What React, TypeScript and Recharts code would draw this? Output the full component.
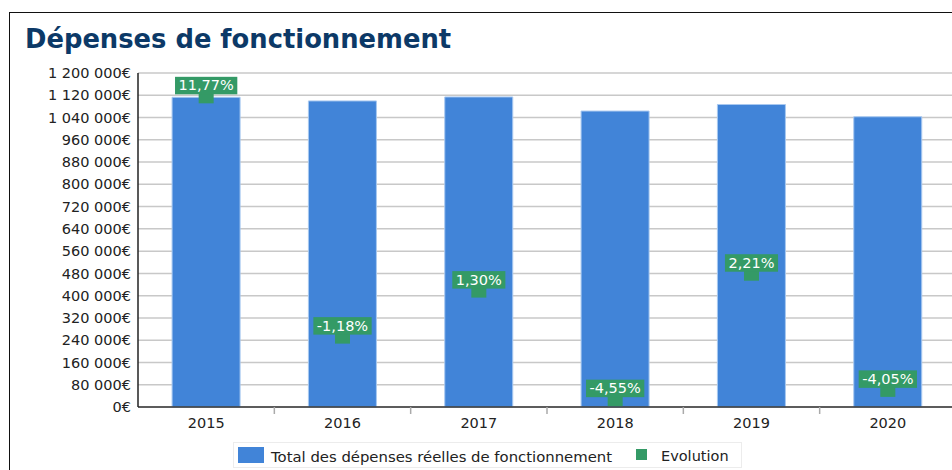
import React from 'react';
import {
  ComposedChart,
  Bar,
  Line,
  XAxis,
  YAxis,
  CartesianGrid,
  LabelList,
} from 'recharts';

// values
const years = ['2015', '2016', '2017', '2018', '2019', '2020'];
const totals = [1112800, 1099670, 1113960, 1063280, 1086780, 1042760];
const evolutions = [11.77, -1.18, 1.3, -4.55, 2.21, -4.05];
const yTicks = [
  0, 80000, 160000, 240000, 320000, 400000, 480000, 560000, 640000, 720000,
  800000, 880000, 960000, 1040000, 1120000, 1200000,
];

const data = years.map((year, i) => ({
  year,
  total: totals[i],
  evo: evolutions[i],
}));

const FONT = '"DejaVu Sans", Verdana, sans-serif';
const BLUE = '#4184d8';
const GREEN = '#349a66';
const TEXT = '#222';
const X_TICK_GAP = 11;

const formatEuro = (v: number) =>
  String(Math.round(v)).replace(/\B(?=(\d{3})+(?!\d))/g, ' ') + '€';

const formatPct = (v: number) => v.toFixed(2).replace('.', ',') + '%';

let measureCtx: CanvasRenderingContext2D | null = null;
function textWidth(s: string) {
  if (!measureCtx) {
    measureCtx = document.createElement('canvas').getContext('2d');
  }
  if (!measureCtx) return s.length * 8.5;
  measureCtx.font = `14.5px ${FONT}`;
  return measureCtx.measureText(s).width;
}

const YearTick = (props: any) => {
  const { x, y, payload, index, visibleTicksCount } = props;
  const half = payload && payload.offset ? payload.offset : 0;
  const top = y - X_TICK_GAP;
  return (
    <g>
      {half > 0 && index < visibleTicksCount - 1 && (
        <line x1={x + half} x2={x + half} y1={top} y2={top + 7} stroke="#aaa" strokeWidth={1.5} />
      )}
      <text x={x} y={y} dy="0.71em" textAnchor="middle" fill={TEXT} fontSize={14.5} fontFamily={FONT}>
        {payload.value}
      </text>
    </g>
  );
};

const SquareDot = (props: any) => {
  const { cx, cy, index } = props;
  if (cx == null || cy == null) return <g key={index} />;
  return <rect key={index} x={cx - 7.5} y={cy - 7.5} width={15} height={15} fill={GREEN} />;
};

const EvoLabel = (props: any) => {
  const { x, y, value } = props;
  if (x == null || y == null) return null;
  const label = formatPct(Number(value));
  const w = textWidth(label) + 7;
  const h = 17.5;
  return (
    <g>
      <rect x={x - w / 2} y={y - 1.5 - h} width={w} height={h} fill={GREEN} />
      <text
        x={x}
        y={y - 10.5}
        dy="0.355em"
        textAnchor="middle"
        fill="#fff"
        fontSize={14.5}
        fontFamily={FONT}
      >
        {label}
      </text>
    </g>
  );
};

export default function App() {
  return (
    <div
      style={{
        position: 'fixed',
        left: 0,
        top: 0,
        width: 952,
        height: 470,
        overflow: 'hidden',
        background: '#fff',
        fontFamily: FONT,
      }}
    >
      <div
        style={{
          position: 'absolute',
          left: 9,
          top: 11.5,
          width: 1100,
          height: 700,
          border: '1.5px solid #111',
          boxSizing: 'border-box',
        }}
      />
      <div
        style={{
          position: 'absolute',
          left: 25,
          top: 24,
          fontSize: 25.8,
          fontWeight: 'bold',
          color: '#0c3967',
          whiteSpace: 'nowrap',
          lineHeight: 'normal',
        }}
      >
        Dépenses de fonctionnement
      </div>

      <div style={{ position: 'absolute', left: 0, top: 0 }}>
        <ComposedChart
          width={956}
          height={470}
          data={data}
          margin={{ top: 73, right: 0, left: 0, bottom: 33 }}
          barCategoryGap="25%"
        >
          <CartesianGrid vertical={false} stroke="#c8c8c8" strokeWidth={1.5} />
          <XAxis
            dataKey="year"
            height={30}
            axisLine={{ stroke: '#333', strokeWidth: 1.5 }}
            tickLine={false}
            tickSize={0}
            tickMargin={X_TICK_GAP}
            tick={<YearTick />}
            interval={0}
          />
          <YAxis
            width={138}
            domain={[0, 1200000]}
            ticks={yTicks}
            interval={0}
            tickFormatter={formatEuro}
            axisLine={{ stroke: '#222', strokeWidth: 1.5 }}
            tickLine={false}
            tickSize={0}
            tickMargin={7}
            tick={{ fill: TEXT, fontSize: 14.5, fontFamily: FONT }}
          />
          <YAxis yAxisId="pct" hide domain={[-5, 13]} allowDataOverflow />
          <Bar
            dataKey="total"
            fill={BLUE}
            stroke="#a8c8f0"
            strokeWidth={1}
            isAnimationActive={false}
          />
          <Line
            yAxisId="pct"
            dataKey="evo"
            stroke="none"
            dot={<SquareDot />}
            activeDot={false}
            isAnimationActive={false}
          >
            <LabelList dataKey="evo" content={<EvoLabel />} />
          </Line>
        </ComposedChart>
      </div>

      {/* legend */}
      <div
        style={{
          position: 'absolute',
          left: 233,
          top: 442,
          width: 509,
          height: 26,
          border: '1px solid #ececec',
          boxSizing: 'border-box',
        }}
      />
      <div style={{ position: 'absolute', left: 237.5, top: 447, width: 26, height: 16, background: BLUE }} />
      <div
        style={{
          position: 'absolute',
          left: 271,
          top: 448,
          fontSize: 14.85,
          color: TEXT,
          whiteSpace: 'nowrap',
          lineHeight: 'normal',
        }}
      >
        Total des dépenses réelles de fonctionnement
      </div>
      <div style={{ position: 'absolute', left: 636, top: 449, width: 11, height: 11, background: GREEN }} />
      <div
        style={{
          position: 'absolute',
          left: 661,
          top: 448,
          fontSize: 14.5,
          color: TEXT,
          whiteSpace: 'nowrap',
          lineHeight: 'normal',
        }}
      >
        Evolution
      </div>
    </div>
  );
}
